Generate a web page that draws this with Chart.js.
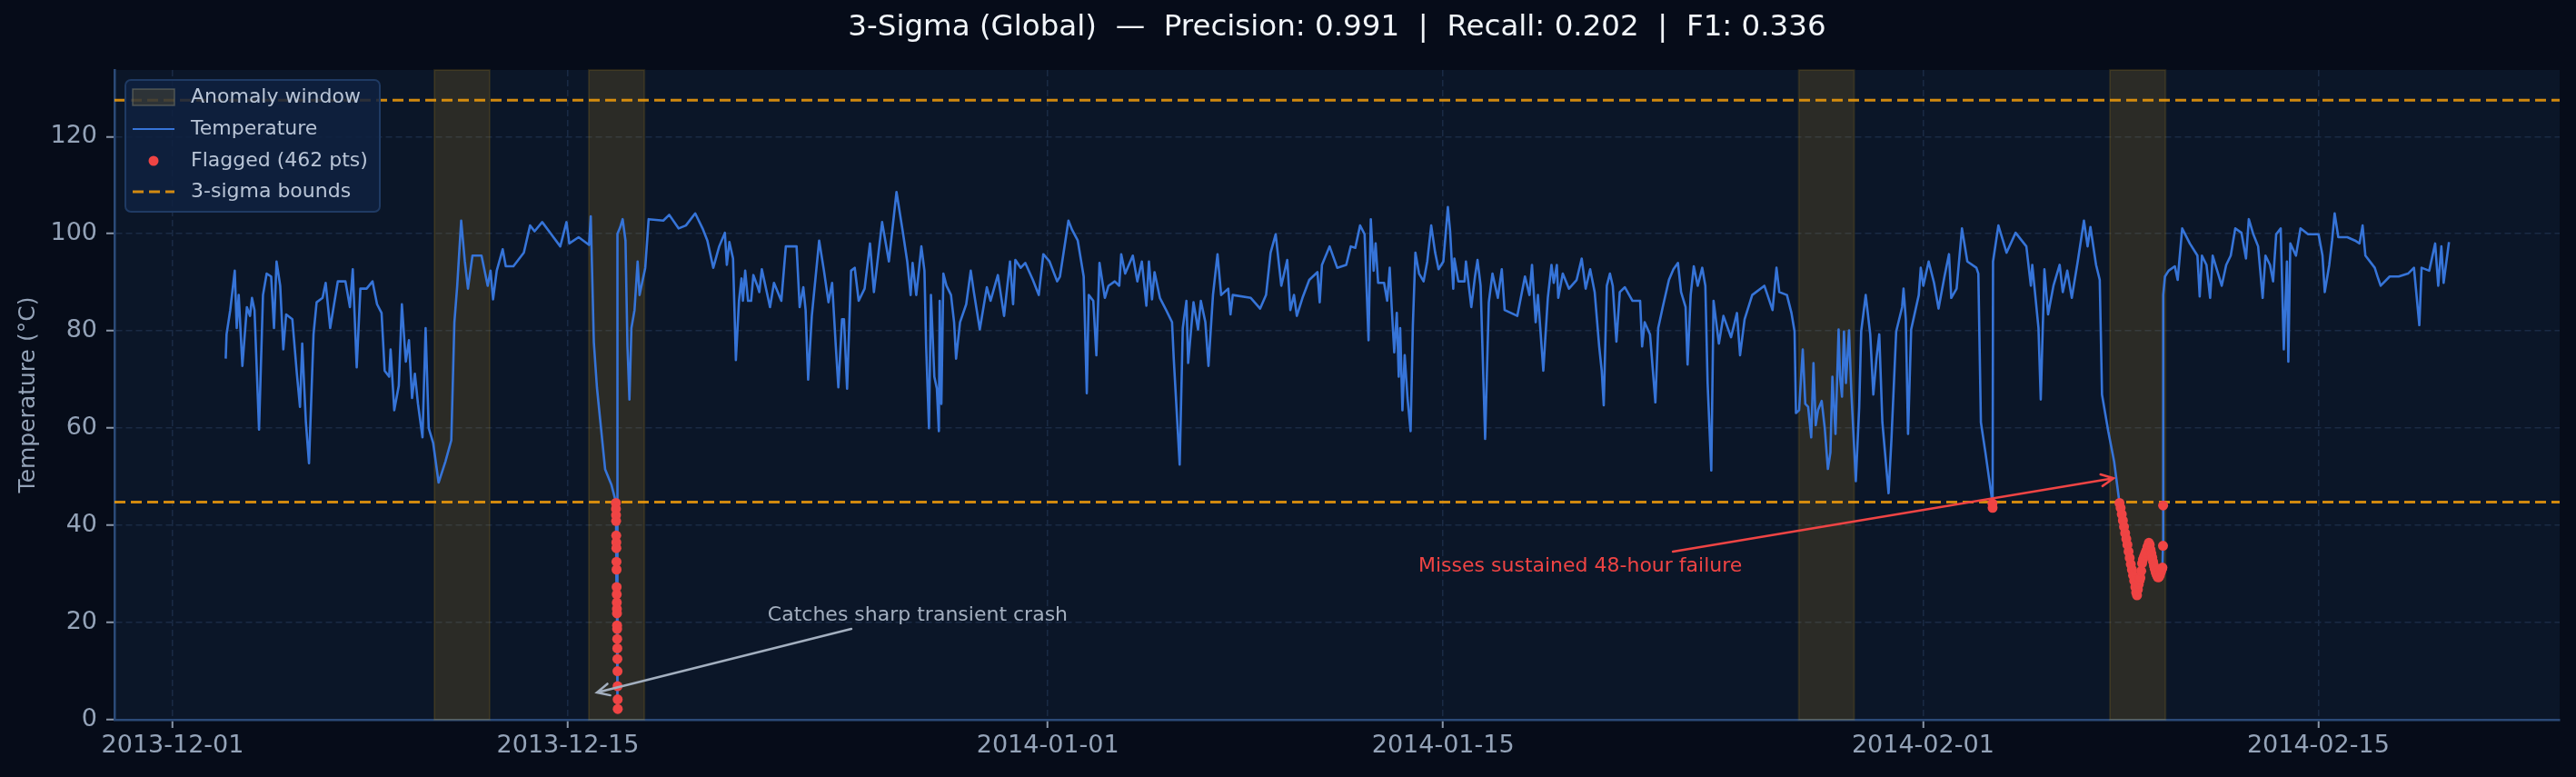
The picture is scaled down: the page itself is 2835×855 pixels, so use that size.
<!DOCTYPE html>
<html>
<head>
<meta charset="utf-8">
<script src="https://cdn.jsdelivr.net/npm/chart.js@4.4.1/dist/chart.umd.min.js"></script>
<style>
  html, body { margin: 0; padding: 0; background: #060c19; }
  #wrap { width: 2835px; height: 855px; }
</style>
</head>
<body>
<div id="wrap"><canvas id="tempChart" width="2835" height="855"></canvas></div>
<script>
// days since 2013-12-01 00:00
const times = [
  1.88, 1.91, 2.04, 2.20, 2.27, 2.34, 2.47, 2.63, 2.74, 2.81, 2.90, 3.06, 3.20, 3.33, 3.49, 3.59, 3.68, 3.81, 3.92, 4.02,
  4.24, 4.40, 4.51, 4.59, 4.72, 4.83, 4.99, 5.10, 5.31, 5.42, 5.58, 5.85, 6.12, 6.28, 6.38, 6.52, 6.65, 6.87, 7.08, 7.24,
  7.40, 7.51, 7.67, 7.72, 7.85, 8.01, 8.12, 8.26, 8.37, 8.48, 8.58, 8.69, 8.85, 8.96, 9.07, 9.23, 9.42, 9.66, 9.87, 9.98,
  10.08, 10.22, 10.35, 10.46, 10.62, 10.94, 11.16, 11.26, 11.35, 11.48, 11.69, 11.80, 12.07, 12.44, 12.66, 12.82, 13.09, 13.41, 13.73, 13.95,
  14.05, 14.38, 14.75, 14.81, 14.92, 15.03, 15.32, 15.54, 15.66,
  15.700, 15.702, 15.705, 15.708, 15.712, 15.715, 15.718, 15.721, 15.724, 15.727, 15.730, 15.733, 15.736, 15.739, 15.742, 15.745,
  15.748, 15.751, 15.754, 15.757, 15.760, 15.763, 15.766,
  15.77, 15.85, 15.94, 16.04, 16.11, 16.18, 16.25, 16.36, 16.47, 16.54, 16.74, 16.86, 17.38,
  17.59, 17.92, 18.18, 18.51, 18.77, 18.94, 19.15, 19.36, 19.56, 19.63, 19.72, 19.85, 19.95, 20.06, 20.15, 20.20, 20.28, 20.38, 20.49, 20.57,
  20.71, 20.78, 20.87, 21.16, 21.30, 21.56, 21.72, 22.10, 22.21, 22.34, 22.42, 22.51, 22.64, 22.90, 23.07, 23.23, 23.36, 23.49, 23.58, 23.71,
  23.78, 23.89, 24.03, 24.16, 24.30, 24.51, 24.70, 24.84, 25.13, 25.37, 25.64, 25.86, 26.02, 26.14, 26.21, 26.34, 26.52, 26.63, 26.69, 26.79,
  26.86, 26.98, 27.07, 27.14, 27.17, 27.23, 27.30, 27.41, 27.57, 27.68, 27.75, 27.89, 28.11, 28.27, 28.38, 28.59, 28.84, 28.97, 29.23, 29.45,
  29.66, 29.77, 29.85, 30.04, 30.20, 30.47, 30.68, 30.84, 31.06, 31.33, 31.43, 31.73, 31.86, 32.06, 32.27, 32.38, 32.45, 32.61, 32.72, 32.83,
  33.02,
  33.15, 33.37, 33.53, 33.60, 33.74, 34.01, 34.17, 34.33, 34.49, 34.58, 34.69, 34.78, 34.97, 35.19, 35.40, 35.46, 35.67, 35.78, 35.91, 35.97,
  36.16, 36.32, 36.42, 36.58, 36.69, 36.85, 37.01, 37.14, 37.39, 37.47, 37.55, 38.19, 38.52, 38.73, 38.89, 39.07, 39.27, 39.48, 39.59, 39.72,
  39.82, 40.02, 40.26, 40.55, 40.63, 40.71, 40.98, 41.25, 41.57, 41.73, 41.89, 42.06, 42.22, 42.36, 42.44, 42.54, 42.61, 42.70, 42.91, 43.02,
  43.11, 43.18, 43.27, 43.36, 43.43, 43.48, 43.56, 43.64, 43.74, 43.85, 43.93, 44.02, 44.15, 44.31, 44.44, 44.58, 44.72, 44.84, 45.01, 45.17,
  45.25, 45.36, 45.40, 45.54, 45.76, 45.81, 46.00, 46.13, 46.22, 46.33, 46.49, 46.62, 46.75, 46.94, 47.08, 47.18, 47.63, 47.90, 48.06, 48.15,
  48.28, 48.36, 48.55, 48.71, 48.84,
  48.92, 49.03, 49.08, 49.24, 49.46, 49.73, 49.91, 50.05, 50.21, 50.37, 50.53, 50.62, 50.69, 50.80, 50.91, 51.01, 51.14, 51.26, 51.44, 51.71,
  51.98, 52.05, 52.14, 52.33, 52.52, 52.62, 52.78, 53.00, 53.16, 53.32, 53.43, 53.59, 53.66, 53.77, 53.88, 54.02, 54.18, 54.29, 54.37, 54.50,
  54.58, 54.77, 54.93, 55.20, 55.41, 55.52, 55.68, 55.95, 56.38, 56.67, 56.81, 56.91, 57.18, 57.34, 57.45, 57.50, 57.61, 57.74, 57.83, 57.93,
  58.04, 58.12, 58.20, 58.28, 58.41, 58.52, 58.63, 58.72, 58.79, 58.90, 59.01, 59.06, 59.13, 59.20, 59.27, 59.38, 59.46, 59.62, 59.74, 59.81,
  59.97, 60.13, 60.24, 60.35, 60.45, 60.56, 60.78, 60.88, 61.05, 61.26, 61.31, 61.39, 61.47, 61.58, 61.85, 61.92, 62.01, 62.20, 62.39, 62.55,
  62.76, 62.92, 63.00, 63.19, 63.38, 63.57, 63.89, 63.96, 64.05, 64.21, 64.42, 64.46, 64.465, 64.48, 64.67,
  64.96, 65.28, 65.66, 65.82, 65.87, 66.09, 66.17, 66.30, 66.43, 66.62, 66.84, 66.95, 67.11, 67.27, 67.48, 67.70, 67.83, 67.93, 68.13, 68.26,
  68.34, 68.56, 68.77, 68.93,
  68.96, 69.00, 69.04, 69.08, 69.12, 69.16, 69.20, 69.24, 69.28, 69.32, 69.36, 69.40, 69.44, 69.48, 69.52, 69.55, 69.58, 69.61, 69.64, 69.67,
  69.70, 69.73, 69.76, 69.79, 69.83, 69.87, 69.91, 69.95, 70.00, 70.03, 70.06, 70.09, 70.12, 70.15, 70.18, 70.21, 70.24, 70.27, 70.30, 70.33,
  70.36, 70.39, 70.42, 70.45, 70.48, 70.50, 70.505,
  70.51, 70.57, 70.70, 70.92, 71.02, 71.18, 71.45, 71.72, 71.80, 71.88, 72.04, 72.17, 72.26, 72.42, 72.58, 72.74, 72.90, 73.06, 73.28, 73.44,
  73.54, 73.70, 73.87, 74.03, 74.13, 74.29, 74.40, 74.51, 74.67, 74.78, 74.89, 74.94, 75.01, 75.21, 75.37, 75.64, 76.01, 76.15, 76.23, 76.39,
  76.49, 76.58, 76.71, 77.03, 77.30, 77.46, 77.57, 77.67, 78.00, 78.10, 78.21, 78.53, 78.85, 79.18, 79.39, 79.58, 79.66, 79.93, 80.14, 80.25,
  80.36, 80.44, 80.63
];

// machine temperature readings
const temps = [
  74.3, 79.3, 84.3, 92.4, 80.6, 87.4, 72.8, 84.9, 83.1, 86.8, 84.3, 59.7, 87.4, 91.8, 91.2, 80.6, 94.3, 89.3, 76.2, 83.4,
  82.4, 71.2, 64.4, 77.4, 61.2, 52.8, 79.3, 85.9, 86.8, 89.9, 80.6, 90.2, 90.2, 84.9, 92.7, 72.5, 88.7, 88.7, 90.2, 85.5,
  83.7, 71.8, 70.6, 76.2, 63.7, 68.7, 85.5, 73.7, 78.1, 66.2, 71.2, 65.0, 58.1, 80.6, 60.0, 56.9, 48.8, 53.1, 57.5, 81.8,
  89.3, 102.7, 94.3, 88.7, 95.5, 95.5, 89.3, 92.4, 86.5, 92.4, 96.8, 93.3, 93.3, 96.1, 101.7, 100.5, 102.4, 99.9, 97.4, 102.4,
  98.0, 99.3, 97.7, 103.6, 77.6, 68.3, 51.5, 48.4, 45.7,
  44.6, 43.4, 42.1, 40.9, 37.9, 36.5, 35.3, 32.5, 30.9, 27.3, 25.8, 24.1, 22.8, 21.9, 19.4, 18.7,
  16.6, 14.7, 12.5, 10.0, 6.9, 4.2, 2.2,
  100.0, 101.3, 103.0, 98.6, 76.8, 65.9, 80.6, 84.3, 94.3, 87.4, 93.0, 103.0, 102.7,
  103.9, 101.1, 101.7, 104.2, 101.1, 98.6, 93.0, 97.4, 100.2, 93.6, 98.3, 94.9, 74.0, 86.2, 90.8, 86.2, 92.4, 86.2, 86.2, 91.5,
  89.3, 88.0, 92.7, 84.9, 89.9, 86.2, 97.4, 97.4, 84.9, 89.0, 84.3, 70.0, 83.1, 98.6, 92.4, 85.9, 89.9, 76.8, 68.4, 82.4,
  82.4, 68.1, 92.4, 93.0, 86.2, 88.7, 98.0, 88.0, 102.4, 94.3, 108.6, 100.5, 94.3, 87.4, 94.0, 87.4, 97.4, 92.4, 76.8, 60.0,
  87.4, 70.6, 68.1, 59.4, 86.2, 65.0, 91.8, 89.3, 87.4, 81.8, 74.3, 81.8, 85.5, 92.4, 88.0, 80.3, 89.0, 86.2, 91.5, 83.1,
  94.3, 85.5, 94.6, 93.0, 94.0, 90.5, 87.4, 95.8, 94.3, 90.2, 91.2, 102.7, 100.8, 98.6, 91.2, 67.2, 87.4, 86.2, 75.0, 94.0,
  86.8,
  89.3, 90.2, 89.3, 95.8, 91.8, 95.5, 90.2, 94.3, 85.2, 94.3, 86.5, 92.1, 86.8, 84.3, 81.8, 74.3, 52.5, 80.6, 86.2, 73.4,
  85.9, 80.3, 86.2, 81.8, 72.8, 87.4, 95.8, 87.4, 88.7, 83.4, 87.4, 86.8, 84.6, 87.4, 96.1, 99.9, 89.3, 94.6, 84.3, 87.4,
  83.1, 86.8, 90.5, 92.1, 85.9, 93.6, 97.4, 93.0, 93.6, 97.4, 97.1, 101.7, 99.9, 78.1, 103.0, 92.4, 98.0, 89.9, 89.9, 86.2,
  93.0, 84.9, 75.6, 83.7, 70.6, 80.6, 63.7, 75.0, 66.2, 59.4, 81.2, 96.1, 91.8, 90.2, 94.3, 101.7, 96.1, 92.7, 94.3, 105.5,
  100.5, 88.7, 94.9, 90.2, 90.2, 94.3, 84.9, 91.2, 94.6, 89.3, 57.8, 85.9, 91.8, 86.8, 92.7, 84.3, 83.1, 91.2, 87.4, 93.6,
  81.8, 87.4, 71.8, 86.8, 93.6,
  89.9, 93.6, 86.8, 91.8, 88.7, 90.5, 94.9, 88.7, 92.7, 88.0, 76.8, 71.8, 64.7, 89.3, 91.8, 89.3, 77.8, 88.0, 89.0, 86.2,
  86.2, 76.8, 81.8, 79.3, 65.3, 80.6, 84.9, 90.5, 92.7, 94.0, 88.0, 84.9, 73.1, 87.4, 93.3, 89.3, 93.0, 89.3, 69.3, 51.3,
  86.2, 77.4, 83.1, 78.7, 83.7, 75.0, 82.4, 87.4, 89.3, 84.3, 93.0, 88.0, 87.4, 83.7, 79.9, 63.1, 63.7, 76.2, 65.0, 64.4,
  58.1, 73.4, 60.6, 63.7, 65.6, 60.0, 51.6, 55.0, 70.6, 58.8, 80.3, 70.6, 66.5, 79.9, 69.3, 80.1, 67.5, 49.1, 64.4, 79.9,
  87.4, 79.3, 66.9, 74.3, 79.3, 61.2, 46.6, 57.5, 79.9, 84.9, 88.7, 82.4, 58.8, 80.3, 87.4, 93.0, 89.3, 94.3, 89.9, 84.6,
  91.2, 95.8, 86.8, 88.7, 101.1, 94.3, 93.0, 91.8, 61.2, 55.0, 46.3, 44.5, 43.6, 94.3, 101.7,
  96.1, 100.2, 97.4, 89.3, 93.6, 80.6, 65.9, 92.7, 83.4, 89.3, 93.6, 88.0, 92.4, 86.8, 94.3, 102.7, 97.4, 101.4, 93.6, 90.5,
  66.9, 59.4, 53.1, 45.9,
  44.6, 43.6, 42.3, 41.0, 39.7, 38.4, 37.2, 36.0, 34.6, 33.3, 32.0, 30.9, 29.7, 28.6, 27.3, 26.2, 25.6, 26.8, 27.8, 28.6,
  29.2, 30.6, 32.2, 33.0, 33.6, 34.2, 34.8, 35.6, 36.4, 36.0, 35.0, 34.2, 33.4, 32.5, 31.7, 31.0, 30.4, 29.9, 29.5, 29.3,
  29.4, 29.8, 30.3, 30.8, 31.3, 35.8, 44.1,
  87.4, 91.2, 92.4, 93.3, 90.5, 101.1, 98.0, 95.5, 87.1, 95.5, 93.6, 86.8, 95.5, 92.4, 89.3, 93.6, 95.5, 101.1, 100.2, 94.9,
  103.0, 99.9, 97.4, 86.8, 95.5, 93.6, 90.2, 99.9, 101.1, 76.2, 94.3, 73.7, 98.0, 95.5, 101.1, 99.9, 99.9, 95.5, 88.0, 93.6,
  98.6, 104.2, 99.3, 99.3, 98.6, 98.0, 101.7, 95.5, 93.0, 91.2, 89.3, 91.2, 91.2, 91.8, 93.0, 81.2, 93.0, 92.4, 98.0, 89.3,
  97.4, 89.9, 98.3
];

const sigmaBounds = [44.8, 127.5];
const windowStart = [9.27, 14.74, 57.60, 68.62];
const windowEnd = [11.23, 16.71, 59.56, 70.59];
const tickDays = [0, 14, 31, 45, 62, 76];
const tickLabels = ['2013-12-01', '2013-12-15', '2014-01-01', '2014-01-15', '2014-02-01', '2014-02-15'];
const yTicks = [0, 20, 40, 60, 80, 100, 120];
const xLimits = [-2.06, 84.55];
const yLimits = [0, 133.7];

const lineData = times.map((t, i) => ({ x: t, y: temps[i] }));
const flagged = lineData.filter(p => p.y < sigmaBounds[0] || p.y > sigmaBounds[1]);
const boundLine = v => [{ x: xLimits[0], y: v }, { x: xLimits[1], y: v }];

const FONT = '"DejaVu Sans", "Liberation Sans", sans-serif';
const TITLE = '3-Sigma (Global)  \u2014  Precision: 0.991  |  Recall: 0.202  |  F1: 0.336';
const BLUE = '#3674d8';
const RED = '#ef4444';
const ORANGE = 'rgba(245,158,11,0.85)';

const annotations = [
  { text: 'Catches sharp transient crash', tx: 26.39, ty: 21.5, from: [24.04, 18.7], to: [15.03, 5.6], color: '#a3afbf' },
  { text: 'Misses sustained 48-hour failure', tx: 49.86, ty: 31.6, from: [53.14, 34.6], to: [68.75, 49.7], color: RED }
];

const bgPlugin = {
  id: 'bg',
  beforeDraw(chart) {
    const { ctx, chartArea: a } = chart;
    ctx.save();
    ctx.fillStyle = '#060c19';
    ctx.fillRect(0, 0, chart.width, chart.height);
    ctx.fillStyle = '#0b1628';
    ctx.fillRect(a.left, a.top, a.right - a.left, a.bottom - a.top);
    ctx.restore();
  }
};

// title centred over the plot area, like the axes title
const titlePlugin = {
  id: 'axesTitle',
  afterDraw(chart) {
    const { ctx, chartArea: a } = chart;
    ctx.save();
    ctx.fillStyle = '#f1f5f9';
    ctx.font = '32.5px ' + FONT;
    ctx.textAlign = 'center';
    ctx.textBaseline = 'middle';
    ctx.fillText(TITLE, (a.left + a.right) / 2, 31);
    ctx.restore();
  }
};

const windowPlugin = {
  id: 'windows',
  beforeDatasetsDraw(chart) {
    const { ctx, chartArea: a, scales: { x } } = chart;
    ctx.save();
    windowStart.forEach((s, i) => {
      const x0 = x.getPixelForValue(s);
      const x1 = x.getPixelForValue(windowEnd[i]);
      ctx.fillStyle = 'rgba(231,169,27,0.15)';
      ctx.fillRect(x0, a.top, x1 - x0, a.bottom - a.top);
      ctx.strokeStyle = 'rgba(231,169,27,0.12)';
      ctx.lineWidth = 2;
      ctx.strokeRect(x0, a.top, x1 - x0, a.bottom - a.top);
    });
    ctx.restore();
  }
};

function arrow(ctx, x0, y0, x1, y1, color) {
  const ang = Math.atan2(y1 - y0, x1 - x0);
  const head = 15;
  ctx.strokeStyle = color;
  ctx.lineWidth = 2.5;
  ctx.lineCap = 'round';
  ctx.beginPath();
  ctx.moveTo(x0, y0);
  ctx.lineTo(x1, y1);
  ctx.moveTo(x1 - head * Math.cos(ang - 0.45), y1 - head * Math.sin(ang - 0.45));
  ctx.lineTo(x1, y1);
  ctx.lineTo(x1 - head * Math.cos(ang + 0.45), y1 - head * Math.sin(ang + 0.45));
  ctx.stroke();
}

const annotationPlugin = {
  id: 'notes',
  afterDatasetsDraw(chart) {
    const { ctx, scales: { x, y } } = chart;
    ctx.save();
    annotations.forEach(n => {
      arrow(ctx, x.getPixelForValue(n.from[0]), y.getPixelForValue(n.from[1]),
        x.getPixelForValue(n.to[0]), y.getPixelForValue(n.to[1]), n.color);
      ctx.fillStyle = n.color;
      ctx.font = '22px ' + FONT;
      ctx.textAlign = 'center';
      ctx.textBaseline = 'middle';
      ctx.fillText(n.text, x.getPixelForValue(n.tx), y.getPixelForValue(n.ty));
    });
    ctx.restore();
  }
};

const legendPlugin = {
  id: 'customLegend',
  afterDraw(chart) {
    const { ctx } = chart;
    const bx = 138, by = 88, bw = 280, bh = 145;
    ctx.save();
    ctx.beginPath();
    ctx.roundRect(bx, by, bw, bh, 6);
    ctx.fillStyle = 'rgba(15,33,64,0.85)';
    ctx.fill();
    ctx.strokeStyle = '#1f3a63';
    ctx.lineWidth = 2;
    ctx.stroke();

    const rows = [107, 142, 177, 211];
    const hx0 = 146, hx1 = 192;
    // anomaly window patch
    ctx.fillStyle = 'rgba(231,169,27,0.15)';
    ctx.fillRect(hx0, rows[0] - 9, hx1 - hx0, 18);
    ctx.strokeStyle = 'rgba(140,140,120,0.45)';
    ctx.lineWidth = 1.5;
    ctx.strokeRect(hx0, rows[0] - 9, hx1 - hx0, 18);
    // temperature line
    ctx.strokeStyle = BLUE;
    ctx.lineWidth = 2.2;
    ctx.beginPath();
    ctx.moveTo(hx0, rows[1]);
    ctx.lineTo(hx1, rows[1]);
    ctx.stroke();
    // flagged dot
    ctx.fillStyle = RED;
    ctx.beginPath();
    ctx.arc((hx0 + hx1) / 2, rows[2], 5.5, 0, Math.PI * 2);
    ctx.fill();
    // bounds
    ctx.strokeStyle = ORANGE;
    ctx.lineWidth = 3;
    ctx.setLineDash([12, 6]);
    ctx.beginPath();
    ctx.moveTo(hx0, rows[3]);
    ctx.lineTo(hx1, rows[3]);
    ctx.stroke();
    ctx.setLineDash([]);

    const labels = ['Anomaly window', 'Temperature', 'Flagged (462 pts)', '3-sigma bounds'];
    ctx.fillStyle = '#b8c4d6';
    ctx.font = '22px ' + FONT;
    ctx.textAlign = 'left';
    ctx.textBaseline = 'middle';
    labels.forEach((t, i) => ctx.fillText(t, 210, rows[i]));
    ctx.restore();
  }
};

const gridStyle = {
  color: '#1a2a44',
  lineWidth: 1.5,
  drawTicks: true,
  tickLength: 9,
  tickColor: '#8b97aa',
  tickWidth: 2
};

new Chart(document.getElementById('tempChart').getContext('2d'), {
  type: 'line',
  data: {
    datasets: [
      {
        label: 'Temperature',
        data: lineData,
        borderColor: BLUE,
        borderWidth: 2.6,
        borderJoinStyle: 'round',
        pointRadius: 0,
        tension: 0,
        order: 3
      },
      {
        label: '3-sigma bounds',
        data: boundLine(sigmaBounds[0]),
        borderColor: ORANGE,
        borderWidth: 3,
        borderDash: [12, 6],
        pointRadius: 0,
        order: 2
      },
      {
        label: '3-sigma upper',
        data: boundLine(sigmaBounds[1]),
        borderColor: ORANGE,
        borderWidth: 3,
        borderDash: [12, 6],
        pointRadius: 0,
        order: 2
      },
      {
        label: 'Flagged',
        data: flagged,
        showLine: false,
        pointRadius: 5.5,
        pointBackgroundColor: RED,
        pointBorderWidth: 0,
        order: 1
      }
    ]
  },
  options: {
    responsive: false,
    animation: false,
    devicePixelRatio: 1,
    layout: { padding: { left: 0, right: 18, top: 77, bottom: 0 } },
    plugins: {
      legend: { display: false },
      tooltip: { enabled: false },
      title: { display: false }
    },
    scales: {
      x: {
        type: 'linear',
        min: xLimits[0],
        max: xLimits[1],
        afterBuildTicks: s => { s.ticks = tickDays.map(v => ({ value: v })); },
        afterFit: s => { s.height = 63; },
        ticks: {
          autoSkip: false,
          maxRotation: 0,
          padding: 4,
          color: '#94a3b8',
          font: { family: FONT, size: 27 },
          callback: v => tickLabels[tickDays.indexOf(v)]
        },
        grid: gridStyle,
        border: { display: true, color: '#2b4a78', width: 2.5, dash: [7, 4] }
      },
      y: {
        min: yLimits[0],
        max: yLimits[1],
        afterBuildTicks: s => { s.ticks = yTicks.map(v => ({ value: v })); },
        afterFit: s => { s.width = 126; },
        ticks: {
          padding: 10,
          color: '#94a3b8',
          font: { family: FONT, size: 27 }
        },
        grid: gridStyle,
        border: { display: true, color: '#2b4a78', width: 2.5, dash: [7, 4] },
        title: {
          display: true,
          text: 'Temperature (\u00b0C)',
          color: '#94a3b8',
          font: { family: FONT, size: 25 },
          padding: { top: 16 }
        }
      }
    }
  },
  plugins: [bgPlugin, windowPlugin, annotationPlugin, legendPlugin, titlePlugin]
});
</script>
</body>
</html>
